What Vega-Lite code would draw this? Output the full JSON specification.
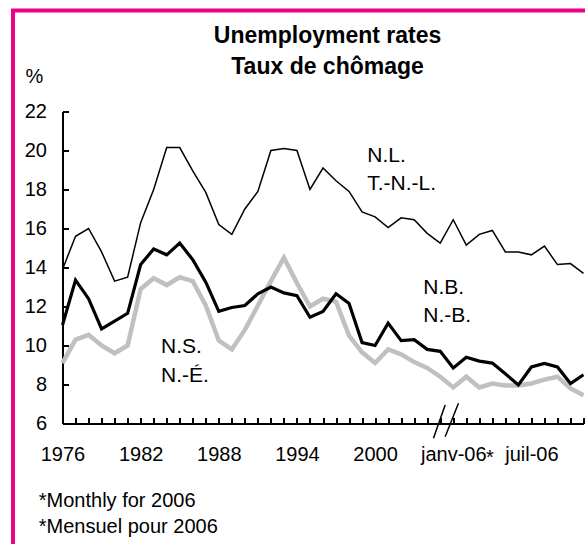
{
  "$schema": "https://vega.github.io/schema/vega-lite/v6.json",
  "width": 521,
  "height": 312,
  "autosize": {"type": "none"},
  "padding": {"left": 62.5, "top": 111.5, "right": 1.5, "bottom": 120.5},
  "background": "white",
  "config": {"font": "Liberation Sans", "view": {"stroke": null}, "axis": {"labelOverlap": false, "labelFlush": false, "grid": false}},
  "resolve": {"axis": {"x": "independent", "y": "independent"}},
  "datasets": {
    "rates": [
      {"t": 0, "period": "1976", "NL": 13.9, "NB": 11.05, "NS": 9.1},
      {"t": 1, "period": "1977", "NL": 15.6, "NB": 13.35, "NS": 10.3},
      {"t": 2, "period": "1978", "NL": 16.0, "NB": 12.4, "NS": 10.55},
      {"t": 3, "period": "1979", "NL": 14.8, "NB": 10.85, "NS": 10.0},
      {"t": 4, "period": "1980", "NL": 13.3, "NB": 11.25, "NS": 9.6},
      {"t": 5, "period": "1981", "NL": 13.5, "NB": 11.65, "NS": 10.0},
      {"t": 6, "period": "1982", "NL": 16.3, "NB": 14.15, "NS": 12.9},
      {"t": 7, "period": "1983", "NL": 18.0, "NB": 14.95, "NS": 13.45},
      {"t": 8, "period": "1984", "NL": 20.15, "NB": 14.65, "NS": 13.1},
      {"t": 9, "period": "1985", "NL": 20.15, "NB": 15.25, "NS": 13.5},
      {"t": 10, "period": "1986", "NL": 18.95, "NB": 14.4, "NS": 13.3},
      {"t": 11, "period": "1987", "NL": 17.85, "NB": 13.25, "NS": 12.05},
      {"t": 12, "period": "1988", "NL": 16.2, "NB": 11.75, "NS": 10.25},
      {"t": 13, "period": "1989", "NL": 15.7, "NB": 11.95, "NS": 9.8},
      {"t": 14, "period": "1990", "NL": 17.0, "NB": 12.05, "NS": 10.8},
      {"t": 15, "period": "1991", "NL": 17.9, "NB": 12.65, "NS": 12.05},
      {"t": 16, "period": "1992", "NL": 20.0, "NB": 13.0, "NS": 13.3},
      {"t": 17, "period": "1993", "NL": 20.1, "NB": 12.7, "NS": 14.5},
      {"t": 18, "period": "1994", "NL": 20.0, "NB": 12.55, "NS": 13.2},
      {"t": 19, "period": "1995", "NL": 18.0, "NB": 11.45, "NS": 12.0},
      {"t": 20, "period": "1996", "NL": 19.1, "NB": 11.75, "NS": 12.4},
      {"t": 21, "period": "1997", "NL": 18.45, "NB": 12.65, "NS": 12.25},
      {"t": 22, "period": "1998", "NL": 17.9, "NB": 12.15, "NS": 10.5},
      {"t": 23, "period": "1999", "NL": 16.85, "NB": 10.15, "NS": 9.65},
      {"t": 24, "period": "2000", "NL": 16.6, "NB": 10.0, "NS": 9.1},
      {"t": 25, "period": "2001", "NL": 16.05, "NB": 11.15, "NS": 9.8},
      {"t": 26, "period": "2002", "NL": 16.55, "NB": 10.25, "NS": 9.55},
      {"t": 27, "period": "2003", "NL": 16.45, "NB": 10.3, "NS": 9.15},
      {"t": 28, "period": "2004", "NL": 15.75, "NB": 9.8, "NS": 8.85},
      {"t": 29, "period": "2005", "NL": 15.25, "NB": 9.7, "NS": 8.4},
      {"t": 30, "period": "janv-06", "NL": 16.45, "NB": 8.85, "NS": 7.85},
      {"t": 31, "period": "févr-06", "NL": 15.15, "NB": 9.4, "NS": 8.4},
      {"t": 32, "period": "mars-06", "NL": 15.7, "NB": 9.2, "NS": 7.85},
      {"t": 33, "period": "avr-06", "NL": 15.9, "NB": 9.1, "NS": 8.05},
      {"t": 34, "period": "mai-06", "NL": 14.8, "NB": 8.55, "NS": 7.95},
      {"t": 35, "period": "juin-06", "NL": 14.8, "NB": 7.98, "NS": 7.95},
      {"t": 36, "period": "juil-06", "NL": 14.65, "NB": 8.9, "NS": 8.05},
      {"t": 37, "period": "août-06", "NL": 15.1, "NB": 9.08, "NS": 8.25},
      {"t": 38, "period": "sept-06", "NL": 14.15, "NB": 8.9, "NS": 8.4},
      {"t": 39, "period": "oct-06", "NL": 14.2, "NB": 8.05, "NS": 7.8},
      {"t": 40, "period": "nov-06", "NL": 13.7, "NB": 8.5, "NS": 7.45}
    ],
    "labels": [
      {"t": 23.4, "v": 19.41, "text": "N.L."},
      {"t": 23.4, "v": 17.97, "text": "T.-N.-L."},
      {"t": 27.7, "v": 12.64, "text": "N.B."},
      {"t": 27.7, "v": 11.21, "text": "N.-B."},
      {"t": 7.57, "v": 9.62, "text": "N.S."},
      {"t": 7.57, "v": 8.13, "text": "N.-É."}
    ],
    "heading": [
      {"t": 20.35, "v": 25.49, "text": "Unemployment rates"},
      {"t": 20.35, "v": 23.9, "text": "Taux de chômage"}
    ],
    "star": [
      {"t": 32.82, "v": 3.93, "text": "*"}
    ],
    "breaks": [
      {"t": 28.48, "t2": 29.38, "v": 5.24, "v2": 6.95},
      {"t": 29.38, "t2": 30.4, "v": 5.32, "v2": 7.04}
    ],
    "frame": [
      {"t": -3.8, "t2": 60, "v": 27.18, "v2": -30}
    ]
  },
  "layer": [
    {
      "data": {"name": "rates"},
      "mark": {"type": "line", "color": "#C0C0C0", "strokeWidth": 4.5, "clip": false},
      "encoding": {
        "x": {
          "field": "t", "type": "quantitative",
          "scale": {"domain": [0, 40], "nice": false, "zero": false},
          "axis": {
            "values": [0,1,2,3,4,5,6,7,8,9,10,11,12,13,14,15,16,17,18,19,20,21,22,23,24,25,26,27,28,29,30,31,32,33,34,35,36,37,38,39,40],
            "labelExpr": "datum.value % 6 != 0 ? '' : (datum.value < 30 ? '' + (1976 + datum.value) : (datum.value == 30 ? 'janv-06' : 'juil-06'))",
            "ticks": true, "tickSize": -6, "tickWidth": 2, "tickColor": "black",
            "domainColor": "black", "domainWidth": 2,
            "labelFontSize": 20, "labelColor": "black", "labelPadding": 27,
            "labelOverlap": false, "labelFlush": false, "grid": false,
            "title": ["*Monthly for 2006", "*Mensuel pour 2006"],
            "titleX": -24.2, "titleY": 82.5, "titleAlign": "left",
            "titleBaseline": "alphabetic", "titleLineHeight": 26,
            "titleFontSize": 20, "titleFontWeight": "normal", "titleColor": "black"
          }
        },
        "y": {
          "field": "NS", "type": "quantitative",
          "scale": {"domain": [6, 22], "nice": false, "zero": false},
          "axis": {
            "values": [6, 8, 10, 12, 14, 16, 18, 20, 22],
            "ticks": true, "tickSize": -6, "tickWidth": 2, "tickColor": "black",
            "domainColor": "black", "domainWidth": 2,
            "labelFontSize": 20, "labelColor": "black", "labelPadding": 22,
            "labelOverlap": false, "grid": false,
            "title": "%", "titleAngle": 0, "titleX": -28.5, "titleY": -29.5,
            "titleAlign": "center", "titleBaseline": "alphabetic",
            "titleFontSize": 20, "titleFontWeight": "normal", "titleColor": "black"
          }
        }
      }
    },
    {
      "data": {"name": "rates"},
      "mark": {"type": "line", "color": "black", "strokeWidth": 3.2, "clip": false},
      "encoding": {
        "x": {"field": "t", "type": "quantitative", "axis": null},
        "y": {"field": "NB", "type": "quantitative", "axis": null}
      }
    },
    {
      "data": {"name": "rates"},
      "mark": {"type": "line", "color": "black", "strokeWidth": 1.5, "clip": false},
      "encoding": {
        "x": {"field": "t", "type": "quantitative", "axis": null},
        "y": {"field": "NL", "type": "quantitative", "axis": null}
      }
    },
    {
      "data": {"name": "breaks"},
      "mark": {"type": "rule", "color": "black", "strokeWidth": 1.5, "clip": false},
      "encoding": {
        "x": {"field": "t", "type": "quantitative", "axis": null},
        "x2": {"field": "t2"},
        "y": {"field": "v", "type": "quantitative", "axis": null},
        "y2": {"field": "v2"}
      }
    },
    {
      "data": {"name": "labels"},
      "mark": {"type": "text", "align": "left", "baseline": "alphabetic", "fontSize": 21, "color": "black"},
      "encoding": {
        "x": {"field": "t", "type": "quantitative", "axis": null},
        "y": {"field": "v", "type": "quantitative", "axis": null},
        "text": {"field": "text"}
      }
    },
    {
      "data": {"name": "heading"},
      "mark": {"type": "text", "align": "center", "baseline": "alphabetic", "fontSize": 23, "fontWeight": "bold", "color": "black"},
      "encoding": {
        "x": {"field": "t", "type": "quantitative", "axis": null},
        "y": {"field": "v", "type": "quantitative", "axis": null},
        "text": {"field": "text"}
      }
    },
    {
      "data": {"name": "star"},
      "mark": {"type": "text", "align": "center", "baseline": "alphabetic", "fontSize": 20, "color": "black"},
      "encoding": {
        "x": {"field": "t", "type": "quantitative", "axis": null},
        "y": {"field": "v", "type": "quantitative", "axis": null},
        "text": {"field": "text"}
      }
    },
    {
      "data": {"name": "frame"},
      "mark": {"type": "rect", "fill": null, "stroke": "#EC008C", "strokeWidth": 4, "clip": false},
      "encoding": {
        "x": {"field": "t", "type": "quantitative", "axis": null},
        "x2": {"field": "t2"},
        "y": {"field": "v", "type": "quantitative", "axis": null},
        "y2": {"field": "v2"}
      }
    }
  ]
}
